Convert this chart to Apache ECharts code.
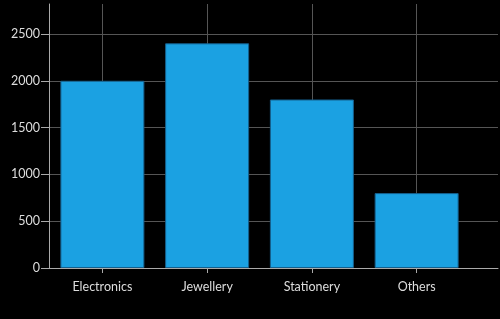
<!DOCTYPE html>
<html>
<head>
<meta charset="utf-8">
<script src="https://cdn.jsdelivr.net/npm/echarts@6/dist/echarts.min.js"></script>
<style>
  html, body { margin: 0; padding: 0; background: #000; }
</style>
</head>
<body>
<div id="salesChart" style="width: 500px; height: 319px"></div>
<script>
const categories = ['Electronics', 'Jewellery', 'Stationery', 'Others']
const sales = [2000, 2400, 1800, 800]
const yMin = 0
const yMax = 2820
const yInterval = 500

const chart = echarts.init(document.getElementById('salesChart'))

const labelFont = "Lato, 'Open Sans', sans-serif"

let option = {
  backgroundColor: '#000',
  animation: false,
  grid: [
    // full width area: horizontal grid lines and axis lines
    { left: 49, right: 2, top: 4, bottom: 51 },
    // category area for the bars
    { left: 50, right: 31, top: 4, bottom: 51 }
  ],
  xAxis: [{
    gridIndex: 0,
    type: 'value',
    min: 0,
    max: 1,
    axisLine: { show: true, lineStyle: { color: '#aaa', width: 1 } },
    axisTick: { show: false },
    axisLabel: { show: false },
    splitLine: { show: false }
  }, {
    gridIndex: 1,
    type: 'category',
    data: categories,
    axisLine: { show: false },
    axisTick: {
      show: true,
      alignWithLabel: true,
      length: 5,
      lineStyle: { color: '#aaa' }
    },
    axisLabel: {
      color: '#ddd',
      fontSize: 12.5,
      fontFamily: labelFont,
      margin: 12
    },
    splitLine: {
      show: true,
      alignWithLabel: true,
      lineStyle: { color: '#555', width: 1 }
    }
  }],
  yAxis: [{
    gridIndex: 0,
    type: 'value',
    min: yMin,
    max: yMax,
    interval: yInterval,
    axisLine: { show: true, lineStyle: { color: '#aaa', width: 1 } },
    axisTick: { show: true, length: 8, lineStyle: { color: '#aaa' } },
    axisLabel: {
      color: '#ddd',
      fontSize: 12.5,
      fontFamily: labelFont,
      margin: 9,
      showMaxLabel: false,
      formatter: function (v) { return String(v) }
    },
    splitLine: {
      show: true,
      showMinLine: false,
      showMaxLine: false,
      lineStyle: { color: '#555', width: 1 }
    }
  }, {
    gridIndex: 1,
    type: 'value',
    min: yMin,
    max: yMax,
    interval: yInterval,
    show: false
  }],
  series: [{
    type: 'bar',
    xAxisIndex: 1,
    yAxisIndex: 1,
    barWidth: 84,
    itemStyle: {
      color: '#1ba1e2',
      borderColor: '#155f8c',
      borderWidth: 1
    },
    data: sales
  }]
}
chart.setOption(option)
</script>
</body>
</html>
